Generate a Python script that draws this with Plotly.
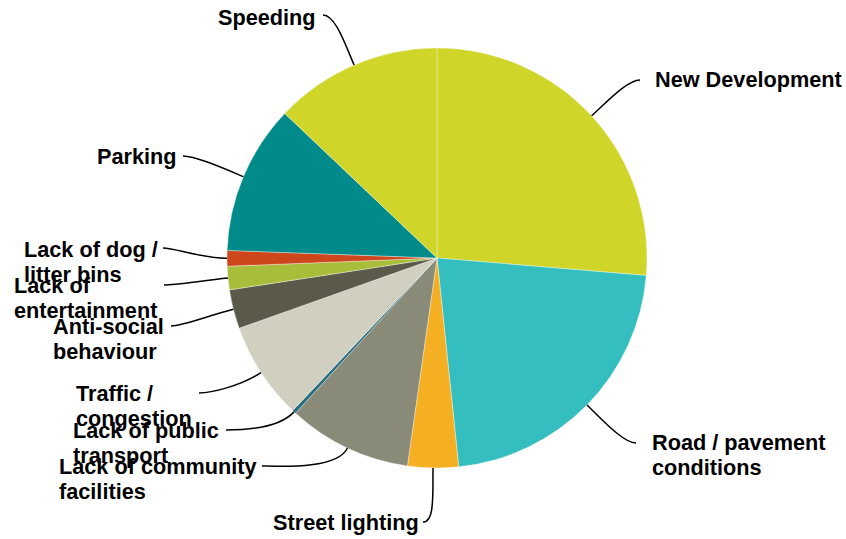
import math
import plotly.graph_objects as go

# ---------------- data ----------------
categories = [
    "New Development", "Road / pavement<br>conditions", "Street lighting",
    "Lack of community<br>facilities", "Lack of public<br>transport",
    "Traffic /<br>congestion", "Anti-social<br>behaviour",
    "Lack of<br>entertainment", "Lack of dog /<br>litter bins",
    "Parking", "Speeding",
]
values = [26.3, 22.0, 3.9, 9.5, 0.3, 7.5, 3.0, 1.8, 1.2, 11.5, 12.9]
colors = ["#D0D52A", "#34BEC0", "#F5AF22", "#8A8A78", "#2A6E80", "#D1CFC0",
          "#5A594A", "#A8BD3A", "#CE471C", "#008A8A", "#D0D52A"]

# ---------------- layout (pixels) ----------------
W, H = 846, 539
CX, CY, R = 437, 258, 210
label_left = [654, 651, 272, 58, 72, 75, 52, 13, 23, 96, 217]
label_y = [79, 442, 522, 466, 430, 393, 326, 285, 249, 156, 17]
leader_end = [(640, 80), (636, 443), (423, 522), (262, 466), (226, 430),
              (199, 393), (171, 326), (164, 285), (163, 248), (183, 156),
              (323, 15)]
LINE_GAP = 25

fig = go.Figure()
fig.add_trace(go.Scatter(x=[], y=[], showlegend=False))
fig.add_trace(go.Pie(
    labels=[c.replace("<br>", " ") for c in categories], values=values,
    marker=dict(colors=colors, line=dict(color="rgba(255,255,255,0.6)", width=0.6)),
    sort=False, direction="clockwise", rotation=0,
    textinfo="none", hoverinfo="label+value", showlegend=False,
    domain=dict(x=[(CX - R) / W, (CX + R) / W],
                y=[(H - CY - R) / H, (H - CY + R) / H]),
))

total = sum(values)
cum = 0.0
shapes, annotations = [], []
for i, v in enumerate(values):
    mid = (cum + v / 2) / total * 2 * math.pi
    cum += v
    ux, uy = math.sin(mid), -math.cos(mid)
    px, py = CX + R * ux, CY + R * uy
    ex, ey = leader_end[i]
    sgn = 1 if px > ex else -1
    p1 = (ex + sgn * 12, ey)
    p2 = (px + ux * 25, py + uy * 25)
    path = f"M {ex},{ey} C {p1[0]},{p1[1]} {p2[0]},{p2[1]} {px},{py}"
    shapes.append(dict(type="path", path=path, xref="x", yref="y",
                       line=dict(color="black", width=1.5)))
    for j, line in enumerate(categories[i].split("<br>")):
        annotations.append(dict(
            x=label_left[i], y=label_y[i] + j * LINE_GAP, xref="x", yref="y",
            text=f"<b>{line}</b>", showarrow=False, xanchor="left", yanchor="middle",
            font=dict(family="Liberation Sans, Arial, sans-serif", size=21.7, color="black"),
            borderpad=0,
        ))

fig.update_layout(
    width=W, height=H, margin=dict(l=0, r=0, t=0, b=0),
    paper_bgcolor="white", plot_bgcolor="rgba(0,0,0,0)",
    xaxis=dict(range=[0, W], visible=False, fixedrange=True),
    yaxis=dict(range=[H, 0], visible=False, fixedrange=True),
    shapes=shapes, annotations=annotations, showlegend=False,
)
fig.write_html(
    "out.html",
    config={"displayModeBar": False},
    post_script=("document.body.style.margin='0';"
                 "document.body.style.overflow='hidden';"
                 "document.documentElement.style.overflow='hidden';"),
)
